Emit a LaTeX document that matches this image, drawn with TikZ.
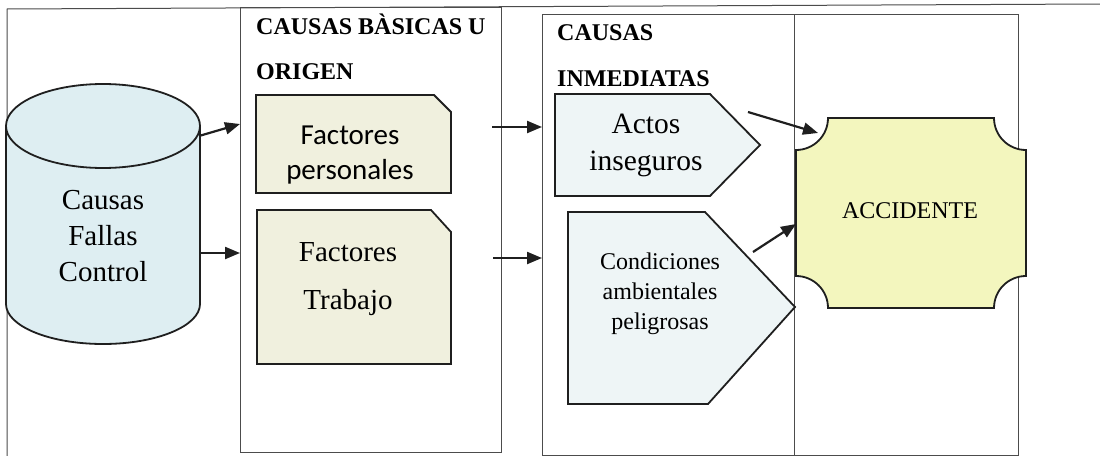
\documentclass[tikz,border=0pt]{standalone}
\usepackage{fontspec}
\setmainfont{Liberation Serif}
\newfontfamily\calibrifont{Carlito}
\usetikzlibrary{arrows.meta}
\definecolor{cylfill}{HTML}{DEEEF2}
\definecolor{factfill}{HTML}{F0F0DE}
\definecolor{pentfill}{HTML}{EEF5F6}
\definecolor{accfill}{HTML}{F3F6BE}
\begin{document}
\begin{tikzpicture}[x=1pt,y=-1pt,
  frameline/.style={draw=black!70, line width=1pt},
  colbox/.style={draw=black!70, line width=1.1pt, anchor=north west, inner sep=0pt},
  shapeline/.style={draw=black!88, line width=1.8pt},
  arr/.style={-{Triangle[length=15pt,width=12pt]}, line width=2.2pt, draw=black!88, fill=black!88},
  txt/.style={align=center, inner sep=0pt},
  titletxt/.style={font=\fontsize{24}{28}\selectfont\bfseries, anchor=base west, inner sep=0pt}
]
\useasboundingbox (0,0) rectangle (1100,455);
\fill[white] (0,0) rectangle (1100,455);

% outer frame
\coordinate (fbl) at (7,456);
\coordinate (ftl) at (7,9);
\coordinate (ftr) at (1100,4);
\draw[frameline] (fbl) -- (ftl) -- (ftr);

% column boxes
\node[colbox, minimum width=261pt, minimum height=445pt] (colA) at (240,7) {};
\node[colbox, minimum width=252pt, minimum height=441pt] (colB) at (542,14) {};
\node[colbox, minimum width=224pt, minimum height=441pt] (colC) at (794,14) {};

% titles
\node[titletxt] (tA1) at (256,34) {CAUSAS BÀSICAS U};
\node[titletxt] (tA2) at (256,79) {ORIGEN};
\node[titletxt] (tB1) at (557,40) {CAUSAS};
\node[titletxt] (tB2) at (557,86) {INMEDIATAS};

% cylinder
\fill[cylfill] (6,126) -- (6,304) arc[start angle=180, end angle=0, x radius=97, y radius=40] -- (200,126) -- cycle;
\draw[shapeline] (6,126) -- (6,304) arc[start angle=180, end angle=0, x radius=97, y radius=40] -- (200,126);
\draw[shapeline, fill=cylfill] (103,126) ellipse[x radius=97, y radius=42];
\node[txt, font=\fontsize{29}{36}\selectfont] (cyl) at (103,236) {Causas\\Fallas\\Control};

% Factores personales
\path[fill=factfill, shapeline] (256,95) -- (434,95) -- (451,112) -- (451,193) -- (256,193) -- cycle;
\node[txt, font=\calibrifont\fontsize{29}{35}\selectfont] (fp) at (350,155) {Factores\\personales};

% Factores Trabajo
\path[fill=factfill, shapeline] (257,210) -- (431,210) -- (451,232) -- (451,364) -- (257,364) -- cycle;
\node[txt, font=\fontsize{29}{48}\selectfont] (ft) at (348,279) {Factores\\Trabajo};

% Actos inseguros
\path[fill=pentfill, shapeline] (555,94) -- (710,94) -- (760,145) -- (710,196) -- (555,196) -- cycle;
\node[txt, font=\fontsize{29.5}{37}\selectfont] (ai) at (646,145) {Actos\\inseguros};

% Condiciones ambientales peligrosas
\path[fill=pentfill, shapeline] (568,212) -- (705,212) -- (795,307) -- (708,404) -- (568,404) -- cycle;
\node[txt, font=\fontsize{24}{30}\selectfont] (ca) at (660,294) {Condiciones\\ambientales\\peligrosas};

% ACCIDENTE
\path[fill=accfill, shapeline] (828,118) -- (994,118)
  arc[start angle=180, end angle=90, radius=32] -- (1026,276)
  arc[start angle=270, end angle=180, radius=32] -- (828,308)
  arc[start angle=0, end angle=-90, radius=32] -- (796,150)
  arc[start angle=90, end angle=0, radius=32] -- cycle;
\node[txt, font=\fontsize{24}{28}\selectfont] (acc) at (910,211) {ACCIDENTE};

% connector end points
\coordinate (c1s) at (199,136);
\coordinate (c1e) at (240,124);
\coordinate (c2s) at (200,253);
\coordinate (c2e) at (240,253);
\coordinate (f1s) at (492,127);
\coordinate (f1e) at (542,127);
\coordinate (f2s) at (493,258);
\coordinate (f2e) at (542,258);
\coordinate (a1s) at (748,112);
\coordinate (a1e) at (818,133);
\coordinate (a2s) at (753,252);
\coordinate (a2e) at (796,224);

\draw[arr] (c1s) -- (c1e);
\draw[arr] (c2s) -- (c2e);
\draw[arr] (f1s) -- (f1e);
\draw[arr] (f2s) -- (f2e);
\draw[arr] (a1s) -- (a1e);
\draw[arr] (a2s) -- (a2e);
\end{tikzpicture}
\end{document}
